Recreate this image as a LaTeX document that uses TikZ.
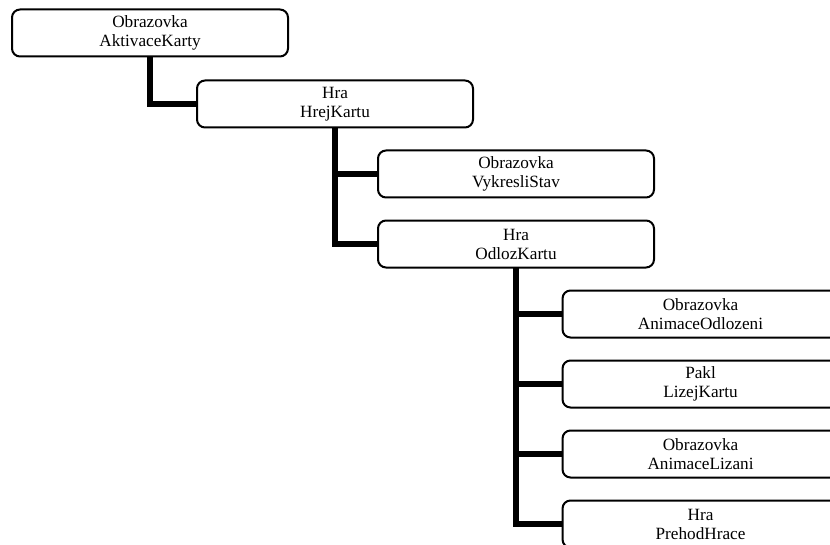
\documentclass[tikz,border=0pt]{standalone}
\usepackage{fontspec}
\setmainfont{Liberation Serif}
\usetikzlibrary{positioning}
\tikzset{
  callnode/.style={rectangle, rounded corners=6pt, minimum height=35.25pt, minimum width=207pt,
    align=center, draw=black, line width=1.5pt, fill=white, inner sep=1pt, outer sep=0pt,
    font=\fontsize{12.9}{14.25}\selectfont},
  calllink/.style={line width=5pt}
}

\begin{document}
\begin{tikzpicture}[node distance=17.25pt]
\useasboundingbox (0,0) rectangle (622.5pt,-408.75pt);
\node[callnode] (aktivace) at (112.5pt,-24.75pt) {Obrazovka\\AktivaceKarty};
\node[callnode, below right=18pt and 35.25pt of aktivace.south] (hrej) {Hra\\HrejKartu};
\node[callnode, below right=17.25pt and 32.25pt of hrej.south] (vykresli) {Obrazovka\\VykresliStav};
\node[callnode, below=of vykresli] (odloz) {Hra\\OdlozKartu};
\node[callnode, below right=17.25pt and 34.9pt of odloz.south] (animodl) {Obrazovka\\AnimaceOdlozeni};
\node[callnode, below=of animodl] (lizej) {Pakl\\LizejKartu};
\node[callnode, below=of lizej] (animliz) {Obrazovka\\AnimaceLizani};
\node[callnode, below=of animliz] (prehod) {Hra\\PrehodHrace};
\draw[calllink] (aktivace.south) |- (hrej.west);
\draw[calllink] (hrej.south) |- (vykresli.west);
\draw[calllink] (hrej.south) |- (odloz.west);
\draw[calllink] (odloz.south) |- (animodl.west);
\draw[calllink] (odloz.south) |- (lizej.west);
\draw[calllink] (odloz.south) |- (animliz.west);
\draw[calllink] (odloz.south) |- (prehod.west);
\end{tikzpicture}
\end{document}
